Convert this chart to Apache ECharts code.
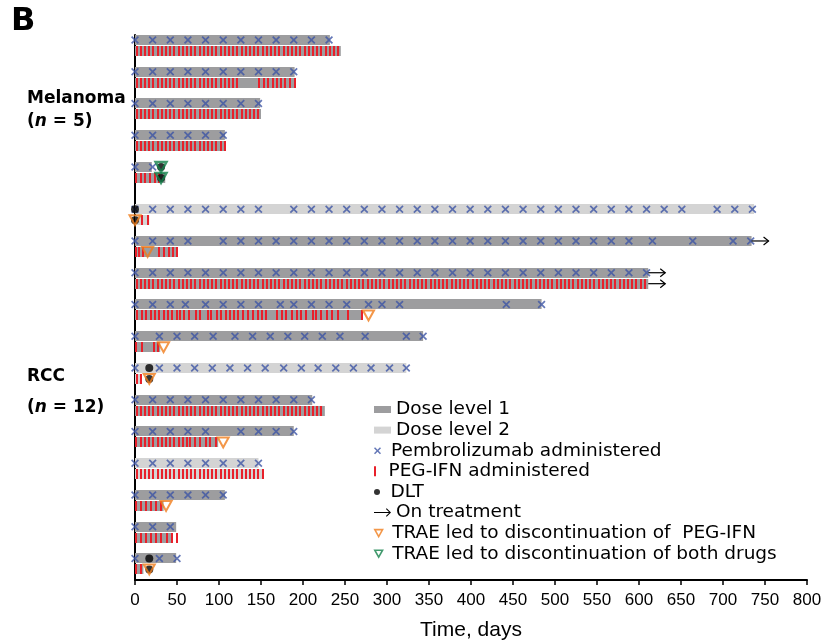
<!DOCTYPE html>
<html>
<head>
<meta charset="utf-8">
<script src="https://cdn.jsdelivr.net/npm/echarts@6/dist/echarts.min.js"></script>
<style>
  html, body { margin: 0; padding: 0; background: #fff; }
  #chart { width: 834px; height: 640px; }
</style>
</head>
<body>
<div id="chart"></div>
<script>
// one entry per patient, top to bottom: 5 melanoma, then 12 RCC
var MEL_N = 5;
var doseLevel = [1, 1, 1, 1, 1, 2, 1, 1, 1, 1, 2, 1, 1, 2, 1, 1, 1];
var pembroEnd = [232, 190, 149, 107, 20, 737, 734, 611, 484, 343, 323, 211, 189, 147, 107, 49, 49];
var pegEnd = [245, 191, 150, 108, 36, 17, 51, 611, 270, 30, 8, 226, 99, 153, 34, 44, 10];

// pembrolizumab doses (days)
var pembroDays = [
  [0, 21, 42, 63, 84, 105, 126, 147, 168, 189, 210, 231],
  [0, 21, 42, 63, 84, 105, 126, 147, 168, 189],
  [0, 21, 42, 63, 84, 105, 126, 147],
  [0, 21, 42, 63, 84, 105],
  [0, 21],
  [0, 21, 42, 63, 84, 105, 126, 147, 189, 210, 231, 252, 273, 294, 315, 336, 357, 378, 399, 420, 441, 462, 483, 504, 525, 546, 567, 588, 609, 630, 651, 693, 714, 735],
  [0, 21, 42, 63, 105, 126, 147, 168, 189, 210, 231, 252, 273, 294, 315, 336, 357, 378, 399, 420, 441, 462, 483, 504, 525, 546, 567, 588, 616, 664, 712, 733],
  [0, 21, 42, 63, 84, 105, 126, 147, 168, 189, 210, 231, 252, 273, 294, 315, 336, 357, 378, 399, 420, 441, 462, 483, 504, 525, 546, 567, 588, 609],
  [0, 21, 42, 60, 84, 105, 126, 147, 173, 189, 210, 231, 252, 278, 294, 315, 442, 484],
  [0, 29, 50, 71, 93, 119, 140, 161, 182, 202, 223, 244, 274, 323, 343],
  [0, 29, 50, 71, 92, 113, 134, 155, 177, 198, 218, 239, 260, 281, 303, 323],
  [0, 21, 42, 63, 84, 105, 126, 147, 168, 189, 210],
  [0, 21, 42, 63, 84, 126, 147, 168, 189],
  [0, 21, 42, 63, 84, 105, 126, 147],
  [0, 21, 42, 63, 84, 105],
  [0, 21, 42],
  [0, 29, 50]
];

// PEG-IFN doses (days)
var pegDays = [
  [2, 7, 12, 17, 22, 27, 32, 37, 42, 47, 52, 57, 62, 67, 72, 77, 82, 87, 92, 97, 102, 107, 112, 117, 122, 127, 132, 137, 142, 147, 152, 157, 162, 167, 172, 177, 182, 187, 192, 197, 202, 207, 212, 217, 222, 227, 232, 237, 242],
  [2, 7, 12, 17, 22, 27, 32, 37, 42, 47, 52, 57, 62, 67, 72, 77, 82, 87, 92, 97, 102, 107, 112, 117, 121, 148, 153, 158, 164, 169, 174, 179, 185, 190],
  [2, 7, 12, 17, 22, 27, 32, 37, 42, 47, 52, 57, 62, 67, 72, 77, 82, 87, 92, 97, 102, 107, 112, 117, 122, 127, 132, 137, 142, 147],
  [2, 7, 12, 17, 22, 27, 32, 37, 42, 47, 52, 57, 62, 67, 72, 77, 82, 87, 92, 97, 102, 107],
  [1, 7, 12, 18, 24, 29],
  [8, 15],
  [1, 5, 9, 29, 34, 40, 45, 50],
  [2, 7, 12, 17, 22, 27, 32, 37, 42, 47, 52, 57, 62, 67, 72, 77, 82, 87, 92, 97, 102, 107, 112, 117, 122, 127, 132, 137, 142, 147, 152, 157, 162, 167, 172, 177, 182, 187, 192, 197, 202, 207, 212, 217, 222, 227, 232, 237, 242, 247, 252, 257, 262, 267, 272, 277, 282, 287, 292, 297, 302, 307, 312, 317, 322, 327, 332, 337, 342, 347, 352, 357, 362, 367, 372, 377, 382, 387, 392, 397, 402, 407, 412, 417, 422, 427, 432, 437, 442, 447, 452, 457, 462, 467, 472, 477, 482, 487, 492, 497, 502, 507, 512, 517, 522, 527, 532, 537, 542, 547, 552, 557, 562, 567, 572, 577, 582, 587, 592, 597, 602, 607],
  [2, 8, 13, 19, 24, 29, 34, 39, 44, 50, 54, 58, 64, 73, 77, 87, 91, 98, 102, 108, 113, 118, 123, 129, 135, 140, 146, 151, 156, 169, 175, 180, 187, 193, 198, 204, 212, 216, 222, 228, 234, 242, 254, 270],
  [1, 8, 23, 27],
  [2, 7],
  [2, 7, 12, 17, 22, 27, 32, 37, 42, 47, 52, 57, 62, 67, 72, 77, 82, 87, 92, 97, 102, 107, 112, 117, 122, 127, 132, 137, 142, 147, 152, 157, 162, 167, 172, 177, 182, 187, 192, 197, 202, 207, 212, 217, 222],
  [1, 7, 12, 17, 22, 27, 32, 37, 42, 47, 52, 57, 62, 66, 71, 77, 85, 89, 97],
  [2, 7, 12, 17, 22, 27, 32, 37, 42, 47, 52, 57, 62, 67, 72, 77, 82, 87, 92, 97, 102, 107, 112, 117, 122, 127, 132, 137, 142, 147, 152],
  [1, 7, 13, 19, 25, 31],
  [1, 7, 13, 19, 25, 31, 38, 44, 50],
  [1, 7]
];

// events: [patient index, day]
var dltPembro = [[4, 31], [5, 0], [10, 17], [16, 17]];
var dltPeg = [[4, 31], [5, 0], [10, 17], [16, 17]];
var traePeg = [[5, 0], [6, 15], [8, 278], [9, 34], [10, 17], [12, 105], [14, 37], [16, 17]];
var traeBoth = [[4, 31]];
var onTreatPembro = [[6, 734], [7, 611]];
var onTreatPeg = [[7, 611]];

var GROUP_GAP = 0.33;
var PEG_OFF = 0.345;
var BAR_H = 0.32;

function slot(i) { return i + (i >= MEL_N ? GROUP_GAP : 0); }

var dl1Bars = [], dl2Bars = [], pembroPts = [], pegPts = [];
for (var i = 0; i < doseLevel.length; i++) {
  var bars = doseLevel[i] === 1 ? dl1Bars : dl2Bars;
  bars.push([0, pembroEnd[i], slot(i)]);
  bars.push([0, pegEnd[i], slot(i) + PEG_OFF]);
  pembroDays[i].forEach(function (d) { pembroPts.push([d, slot(i)]); });
  pegDays[i].forEach(function (d) { pegPts.push([d, slot(i) + PEG_OFF]); });
}
var dltPts = dltPembro.map(function (e) { return [e[1], slot(e[0])]; })
  .concat(dltPeg.map(function (e) { return [e[1], slot(e[0]) + PEG_OFF]; }));
var traePegPts = traePeg.map(function (e) { return [e[1], slot(e[0]) + PEG_OFF]; });
var traeBothPts = traeBoth.map(function (e) { return [e[1], slot(e[0])]; })
  .concat(traeBoth.map(function (e) { return [e[1], slot(e[0]) + PEG_OFF]; }));
var arrowPts = onTreatPembro.map(function (e) { return [e[1], slot(e[0])]; })
  .concat(onTreatPeg.map(function (e) { return [e[1], slot(e[0]) + PEG_OFF]; }));

function renderBar(params, api) {
  var s = api.coord([api.value(0), api.value(2)]);
  var e = api.coord([api.value(1), api.value(2)]);
  var h = api.size([0, BAR_H])[1];
  return {
    type: 'rect',
    shape: { x: s[0], y: Math.round(s[1] - h / 2), width: e[0] - s[0], height: Math.round(h) },
    style: { fill: api.visual('color') }
  };
}

// crisp 2px dose ticks, snapped to whole pixels
function renderTick(params, api) {
  var p = api.coord([api.value(0), api.value(1)]);
  var h = api.size([0, BAR_H])[1];
  return {
    type: 'rect',
    shape: { x: Math.round(p[0] - 1), y: Math.round(p[1] - h / 2), width: 2, height: Math.round(h) },
    style: { fill: api.visual('color') }
  };
}

function renderArrow(params, api) {
  var p = api.coord([api.value(0), api.value(1)]);
  var len = 17;
  return {
    type: 'group',
    children: [
      { type: 'line', shape: { x1: p[0], y1: p[1], x2: p[0] + len, y2: p[1] },
        style: { stroke: '#000', lineWidth: 1.2 } },
      { type: 'polyline', shape: { points: [[p[0] + len - 5, p[1] - 4], [p[0] + len, p[1]], [p[0] + len - 5, p[1] + 4]] },
        style: { stroke: '#000', lineWidth: 1.2, fill: null } }
    ]
  };
}

var X_PATH = 'path://M0,1.5L1.5,0L5,3.5L8.5,0L10,1.5L6.5,5L10,8.5L8.5,10L5,6.5L1.5,10L0,8.5L3.5,5Z';
var TRI_PATH = 'path://M0,0L10,0L5,9Z';
var ARROW_PATH = 'path://M0,4.4L16.6,4.4L13.2,1L14,0.2L18.8,5L14,9.8L13.2,9L16.6,5.6L0,5.6Z';

var legendSpec = [
  { name: 'Dose level 1', icon: 'rect', h: 7, itemStyle: { color: '#9d9d9f' } },
  { name: 'Dose level 2', icon: 'rect', h: 7, itemStyle: { color: '#d4d4d4' } },
  { name: 'Pembrolizumab administered', icon: X_PATH, h: 7, itemStyle: { color: '#3d55a5' } },
  { name: 'PEG-IFN administered', icon: 'path://M0,0L2,0L2,10L0,10Z', h: 10, itemStyle: { color: '#e8202a' } },
  { name: 'DLT', icon: 'circle', h: 6, itemStyle: { color: '#000' } },
  { name: 'On treatment', icon: ARROW_PATH, h: 9, itemStyle: { color: '#000' } },
  { name: 'TRAE led to discontinuation of  PEG-IFN', icon: TRI_PATH, h: 7,
    itemStyle: { color: 'rgba(0,0,0,0)', borderColor: '#f07d1c', borderWidth: 1.6 } },
  { name: 'TRAE led to discontinuation of both drugs', icon: TRI_PATH, h: 7,
    itemStyle: { color: 'rgba(0,0,0,0)', borderColor: '#13814a', borderWidth: 1.6 } }
];

var legends = legendSpec.map(function (it, k) {
  return {
    left: 374,
    top: 409 + 20.6 * k - 9,
    itemWidth: 17,
    itemHeight: it.h,
    selectedMode: false,
    padding: 0,
    data: [{ name: it.name, icon: it.icon, itemStyle: it.itemStyle }],
    textStyle: { fontFamily: 'DejaVu Sans', fontSize: 18.5, lineHeight: 18, color: '#000', padding: 0 }
  };
});

var chart = echarts.init(document.getElementById('chart'), null, { renderer: 'canvas' });
chart.setOption({
  animation: false,
  backgroundColor: '#fff',
  grid: { left: 135, right: 27, top: 35, bottom: 60, outerBoundsMode: 'none', containLabel: false },
  legend: legends,
  xAxis: {
    type: 'value', min: 0, max: 800, interval: 50, position: 'bottom',
    name: 'Time, days', nameLocation: 'middle', nameGap: 40,
    nameTextStyle: { fontFamily: 'Liberation Sans', fontSize: 21, color: '#000' },
    axisLine: { onZero: false, lineStyle: { color: '#000', width: 2 } },
    axisTick: { length: 5, lineStyle: { color: '#000', width: 1.5 } },
    axisLabel: { fontFamily: 'Liberation Sans', fontSize: 17, color: '#000', margin: 12 },
    splitLine: { show: false }
  },
  yAxis: {
    type: 'value', inverse: true, min: -0.1575, max: 17.008,
    axisLine: { show: true, onZero: false, lineStyle: { color: '#000', width: 2 } },
    axisTick: { show: false }, axisLabel: { show: false }, splitLine: { show: false }
  },
  graphic: [
    { type: 'text', left: 11, top: 6, style: { text: 'B', font: 'bold 32px "DejaVu Sans"', fill: '#000' } },
    { type: 'text', style: { x: 27, y: 99, text: 'Melanoma', font: 'bold 17px "DejaVu Sans"', fill: '#000', verticalAlign: 'middle' } },
    { type: 'text', style: { x: 27, y: 122, text: '({i|n} = 5)', font: 'bold 17px "DejaVu Sans"', fill: '#000', verticalAlign: 'middle',
      rich: { i: { font: 'italic bold 17px "DejaVu Sans"', fill: '#000' } } } },
    { type: 'text', style: { x: 27, y: 377, text: 'RCC', font: 'bold 17px "DejaVu Sans"', fill: '#000', verticalAlign: 'middle' } },
    { type: 'text', style: { x: 27, y: 408, text: '({i|n} = 12)', font: 'bold 17px "DejaVu Sans"', fill: '#000', verticalAlign: 'middle',
      rich: { i: { font: 'italic bold 17px "DejaVu Sans"', fill: '#000' } } } }
  ],
  series: [
    { name: 'Dose level 1', type: 'custom', renderItem: renderBar, data: dl1Bars,
      encode: { x: [0, 1], y: 2 }, itemStyle: { color: '#9d9d9f' }, z: 1 },
    { name: 'Dose level 2', type: 'custom', renderItem: renderBar, data: dl2Bars,
      encode: { x: [0, 1], y: 2 }, itemStyle: { color: '#d4d4d4' }, z: 1 },
    { name: 'PEG-IFN administered', type: 'custom', renderItem: renderTick, data: pegPts,
      encode: { x: 0, y: 1 }, itemStyle: { color: '#e8202a' }, z: 3 },
    { name: 'Pembrolizumab administered', type: 'scatter', data: pembroPts, symbol: X_PATH, symbolSize: 8,
      itemStyle: { color: '#3d55a5' }, z: 3 },
    { name: 'DLT', type: 'scatter', data: dltPts, symbol: 'circle', symbolSize: 8,
      itemStyle: { color: '#000' }, z: 4 },
    { name: 'TRAE led to discontinuation of  PEG-IFN', type: 'scatter', data: traePegPts, symbol: TRI_PATH, symbolSize: [11, 10],
      itemStyle: { color: 'rgba(0,0,0,0)', borderColor: '#f07d1c', borderWidth: 2 }, z: 5 },
    { name: 'TRAE led to discontinuation of both drugs', type: 'scatter', data: traeBothPts, symbol: TRI_PATH, symbolSize: [11, 10],
      itemStyle: { color: 'rgba(0,0,0,0)', borderColor: '#13814a', borderWidth: 2.4 }, z: 5 },
    { name: 'On treatment', type: 'custom', renderItem: renderArrow, data: arrowPts,
      encode: { x: 0, y: 1 }, itemStyle: { color: '#000' }, z: 5 }
  ]
});
</script>
</body>
</html>
